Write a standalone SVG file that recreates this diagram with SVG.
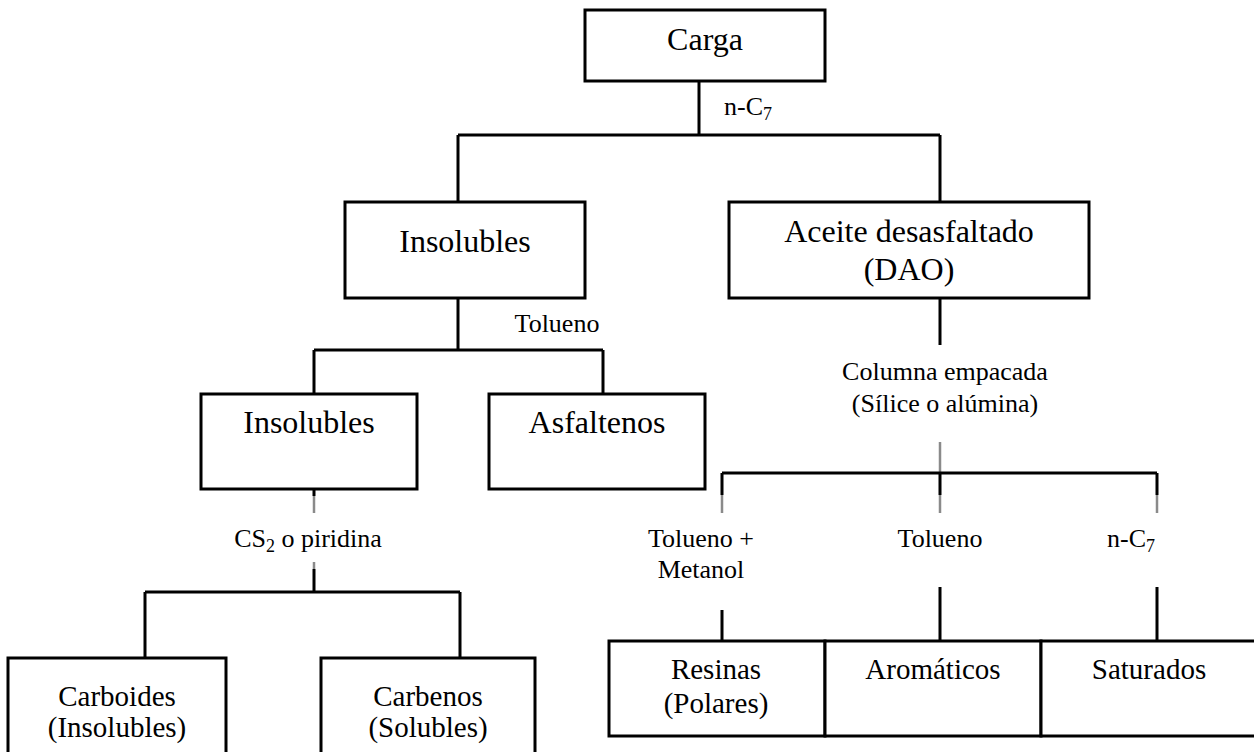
<svg xmlns="http://www.w3.org/2000/svg" width="1254" height="752" viewBox="0 0 1254 752">
<style>
.box{fill:#fff;stroke:#000;stroke-width:3}
.t{font-family:"Liberation Serif","Times New Roman",serif;fill:#000;text-anchor:middle}
.big{font-size:32px}
.mid{font-size:29px}
.lab{font-size:26px}
.c{stroke:#000;stroke-width:3;fill:none}
.g{stroke:#8a8a8a;stroke-width:2.5;fill:none}
</style>
<rect width="1254" height="752" fill="#fff"/>
<g id="connectors">
<path class="c" d="M699 81V135M458 135H940M458 135V202M940 135V202"/>
<path class="c" d="M458 298V350M314 350H603M314 350V394M603 350V394"/>
<path class="c" d="M314 489V496"/>
<path class="g" d="M314 496V513M314 562V569"/>
<path class="c" d="M314 569V592M145 592H460M145 592V658M460 592V658"/>
<path class="c" d="M940 298V345"/>
<path class="g" d="M940 442V473"/>
<path class="c" d="M722 473H1157M722 473V495M940 473V495M1157 473V495"/>
<path class="g" d="M722 495V513M940 495V513M1157 495V513"/>
<path class="c" d="M722 610V641M940 587V641M1157 587V641"/>
</g>
<g id="carga"><rect class="box" x="585" y="10" width="240" height="71"/><text class="t big" x="705" y="50">Carga</text></g>
<g id="lbl-nc7"><text class="t lab" x="724" y="115" style="text-anchor:start">n-C<tspan font-size="18" dy="5">7</tspan></text></g>
<g id="insolubles1"><rect class="box" x="345" y="202" width="240" height="96"/><text class="t big" x="465" y="252">Insolubles</text></g>
<g id="dao"><rect class="box" x="729" y="202" width="360" height="96"/><text class="t big" x="909" y="242">Aceite desasfaltado</text><text class="t big" x="909" y="280">(DAO)</text></g>
<g id="lbl-tolueno1"><text class="t lab" x="557" y="332">Tolueno</text></g>
<g id="insolubles2"><rect class="box" x="201" y="394" width="216" height="95"/><text class="t big" x="309" y="433">Insolubles</text></g>
<g id="asfaltenos"><rect class="box" x="489" y="394" width="216" height="95"/><text class="t big" x="597" y="433">Asfaltenos</text></g>
<g id="lbl-cs2"><text class="t lab" x="308" y="547">CS<tspan font-size="18" dy="5">2</tspan><tspan dy="-5"> o piridina</tspan></text></g>
<g id="lbl-columna"><text class="t lab" x="945" y="380">Columna empacada</text><text class="t lab" x="945" y="412">(Sílice o alúmina)</text></g>
<g id="lbl-tolmet"><text class="t lab" x="701" y="547">Tolueno +</text><text class="t lab" x="701" y="578">Metanol</text></g>
<g id="lbl-tolueno2"><text class="t lab" x="940" y="547">Tolueno</text></g>
<g id="lbl-nc7b"><text class="t lab" x="1131" y="547">n-C<tspan font-size="18" dy="5">7</tspan></text></g>
<g id="carboides"><rect class="box" x="8" y="658" width="218" height="110"/><text class="t mid" x="117" y="706">Carboides</text><text class="t mid" x="117" y="737">(Insolubles)</text></g>
<g id="carbenos"><rect class="box" x="321" y="658" width="214" height="110"/><text class="t mid" x="428" y="706">Carbenos</text><text class="t mid" x="428" y="737">(Solubles)</text></g>
<g id="resinas"><rect class="box" x="609" y="641" width="216" height="95"/><text class="t mid" x="716" y="679">Resinas</text><text class="t mid" x="716" y="713">(Polares)</text></g>
<g id="aromaticos"><rect class="box" x="825" y="641" width="216" height="95"/><text class="t mid" x="933" y="679">Aromáticos</text></g>
<g id="saturados"><rect class="box" x="1041" y="641" width="216" height="95"/><text class="t mid" x="1149" y="679">Saturados</text></g>
</svg>
